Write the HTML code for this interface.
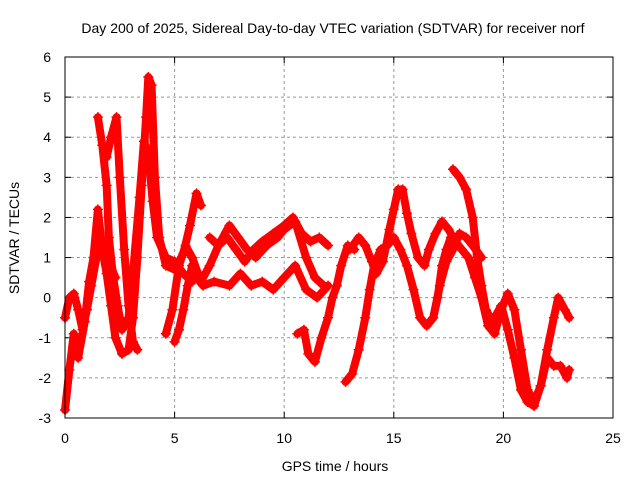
<!DOCTYPE html>
<html><head><meta charset="utf-8"><style>
body{margin:0;background:#fff}
svg{display:block;font-family:"Liberation Sans",sans-serif}
</style></head><body>
<svg id="chart" width="640" height="480" viewBox="0 0 640 480" xmlns="http://www.w3.org/2000/svg">
<rect width="640" height="480" fill="#fff"/>
<text x="333" y="33" font-size="14" text-anchor="middle">Day 200 of 2025, Sidereal Day-to-day VTEC variation (SDTVAR) for receiver norf</text>
<text x="335" y="471" font-size="14" text-anchor="middle">GPS time / hours</text>
<text x="19" y="238" font-size="14" text-anchor="middle" transform="rotate(-90 19 238)">SDTVAR / TECUs</text>
<g id="grid"></g><g id="ticks"></g><g id="series"></g>
<rect x="65" y="57" width="548" height="361" fill="none" stroke="#000" stroke-width="1"/>
</svg>
<script>
const xTicks=[0,5,10,15,20,25];
const yTicks=[-3,-2,-1,0,1,2,3,4,5,6];
const segA=[[0,-2.8],[0.2,-1.8],[0.4,-0.9],[0.6,-1.5],[0.9,-0.6],[1.1,0.4],[1.3,1.0],[1.5,2.2],[1.7,1.2],[1.9,0.6],[2.1,-0.2],[2.3,-1.0],[2.6,-1.4],[2.9,-1.3],[3.1,-0.5],[3.3,1.0],[3.5,2.8],[3.7,4.5],[3.8,5.5],[3.95,5.3],[4.1,3.0],[4.3,1.5],[4.6,0.8],[5.0,0.7],[5.4,1.1],[5.7,1.8],[6.0,2.6],[6.2,2.3]];
const segB=[[1.5,4.5],[1.7,3.8],[1.9,2.8],[2.0,1.5],[2.2,0.5],[2.4,-0.2],[2.6,-0.8],[2.9,-0.5],[3.1,0.6],[3.4,2.5],[3.6,3.9],[3.8,3.6],[4.0,2.4],[4.2,1.5],[4.6,1.0],[5.0,0.9],[5.4,0.6],[5.8,0.4]];
const segC=[[1.9,3.5],[2.1,4.0],[2.35,4.5],[2.5,3.0],[2.7,1.2],[2.9,-0.2],[3.1,-1.1],[3.3,-1.3]];
const segD=[[0,-0.5],[0.2,0],[0.4,0.1],[0.6,-0.3],[0.8,-0.8],[1.0,-0.3],[1.2,0.3],[1.5,1.2],[1.8,1.3],[2.0,0.9],[2.3,0.5]];
const segE=[[5.0,-1.1],[5.2,-0.8],[5.4,-0.3],[5.6,0.3],[5.8,0.8],[6.0,0.5],[6.3,0.3],[6.8,0.4],[7.5,0.3],[8,0.6],[8.5,0.3],[9,0.4],[9.5,0.2],[10,0.5],[10.5,0.8],[11,0.2],[11.5,0],[12,0.3]];
const segF=[[4.6,-0.9],[4.9,-0.3],[5.2,0.8],[5.5,1.3],[5.8,1.0],[6.2,0.4],[6.6,0.8],[7.0,1.3],[7.4,1.5],[7.8,1.2],[8.2,0.9],[8.6,1.2],[9.0,1.4],[9.5,1.6],[10.0,1.8],[10.4,2.0],[10.8,1.6],[11.2,1.4],[11.6,1.5],[12.0,1.3]];
const segG=[[6.6,1.5],[7.0,1.3],[7.5,1.8],[7.9,1.5],[8.3,1.2],[8.7,1.0],[9.2,1.3],[9.7,1.5],[10.0,1.7],[10.5,1.9],[11.0,1.0],[11.4,0.5],[11.8,0.3]];
const segH=[[10.6,-0.9],[10.9,-0.8],[11.1,-1.4],[11.4,-1.6],[11.7,-1.0],[12.0,-0.5],[12.2,0],[12.4,0.3],[12.6,0.8],[12.9,1.3],[13.2,1.2]];
const segI=[[12.8,-2.1],[13.1,-1.9],[13.4,-1.3],[13.7,-0.5],[13.9,0.2],[14.1,0.8],[14.4,1.2],[14.7,1.3],[15.0,1.5],[15.3,1.2],[15.6,0.8],[15.9,0.2],[16.2,-0.5],[16.5,-0.7],[16.8,-0.5],[17.0,0],[17.2,0.8],[17.4,1.2],[17.6,1.5],[17.8,1.3]];
const segJ=[[13.0,1.2],[13.4,1.5],[13.7,1.3],[14.0,0.9],[14.2,0.6],[14.5,0.9],[14.8,1.7],[15.0,2.2],[15.2,2.7],[15.4,2.7],[15.6,2.1],[15.8,1.6],[16.1,1.0],[16.4,0.8],[16.6,1.2],[16.9,1.6],[17.2,1.9],[17.5,1.7],[17.8,1.4],[18.1,1.2],[18.4,1.0],[18.7,0.5],[19.0,0],[19.3,-0.7],[19.6,-0.9],[19.9,-0.3],[20.2,0.1],[20.5,-0.3],[20.8,-1.3],[21.1,-2.3],[21.4,-2.6],[21.7,-2.2],[22.0,-1.3],[22.3,-0.5],[22.5,0],[22.8,-0.3],[23.0,-0.5]];
const segK=[[17.7,3.2],[18.0,3.0],[18.3,2.7],[18.6,2.0],[18.8,1.0],[19.0,0.3],[19.2,-0.3],[19.5,-0.6],[19.9,-0.2],[20.2,-0.8],[20.5,-1.5],[20.8,-2.3],[21.1,-2.6],[21.4,-2.7],[21.7,-2.2],[22.0,-1.5],[22.3,-1.7],[22.6,-1.7],[22.9,-2.0],[23.0,-1.8]];
const segL=[[16.8,-0.5],[17.1,0.3],[17.4,0.9],[17.7,1.2],[18.0,1.6],[18.3,1.5],[18.6,1.3],[19.0,1.0]];
const segments=[segA,segB,segC,segD,segE,segF,segG,segH,segI,segJ,segK,segL];

const NS="http://www.w3.org/2000/svg";
const X=t=>65+t*548/25;
const Y=v=>57+(6-v)*361/9;
function mk(tag,attrs,parent){const e=document.createElementNS(NS,tag);for(const k in attrs)e.setAttribute(k,attrs[k]);parent.appendChild(e);return e;}
const grid=document.getElementById('grid'),ticks=document.getElementById('ticks'),ser=document.getElementById('series');
xTicks.forEach(t=>{
  if(t>0&&t<25){const g=mk('line',{x1:X(t),x2:X(t),y1:57,y2:418,stroke:'#999','stroke-dasharray':'3,3'},grid);
  
  }
  const l=mk('text',{x:X(t),y:443,'font-size':14,'text-anchor':'middle'},ticks);l.textContent=t;
  
  
  mk('line',{x1:X(t),x2:X(t),y1:418,y2:412,stroke:'#000'},ticks);
  mk('line',{x1:X(t),x2:X(t),y1:57,y2:63,stroke:'#000'},ticks);
});
yTicks.forEach(v=>{
  if(v>-3&&v<6){const g=mk('line',{x1:65,x2:613,y1:Y(v),y2:Y(v),stroke:'#999','stroke-dasharray':'3,3'},grid);
  
  }
  const l=mk('text',{x:51,y:Y(v)+5,'font-size':14,'text-anchor':'end'},ticks);l.textContent=v;
  
  
  mk('line',{x1:65,x2:71,y1:Y(v),y2:Y(v),stroke:'#000'},ticks);
  mk('line',{x1:607,x2:613,y1:Y(v),y2:Y(v),stroke:'#000'},ticks);
});
segments.forEach((s,i)=>{
  const p=mk('polyline',{points:s.map(d=>X(d[0])+','+Y(d[1])).join(' '),fill:'none',stroke:'#f00','stroke-width':8,'stroke-linejoin':'round','stroke-linecap':'round'},ser);
  
  
  s.forEach(d=>{
    const m=mk('path',{d:`M${X(d[0])-5},${Y(d[1])}h10M${X(d[0])},${Y(d[1])-5}v10`,stroke:'#f00','stroke-width':1.5},ser);
    
    
  });
});
</script>
</body></html>
